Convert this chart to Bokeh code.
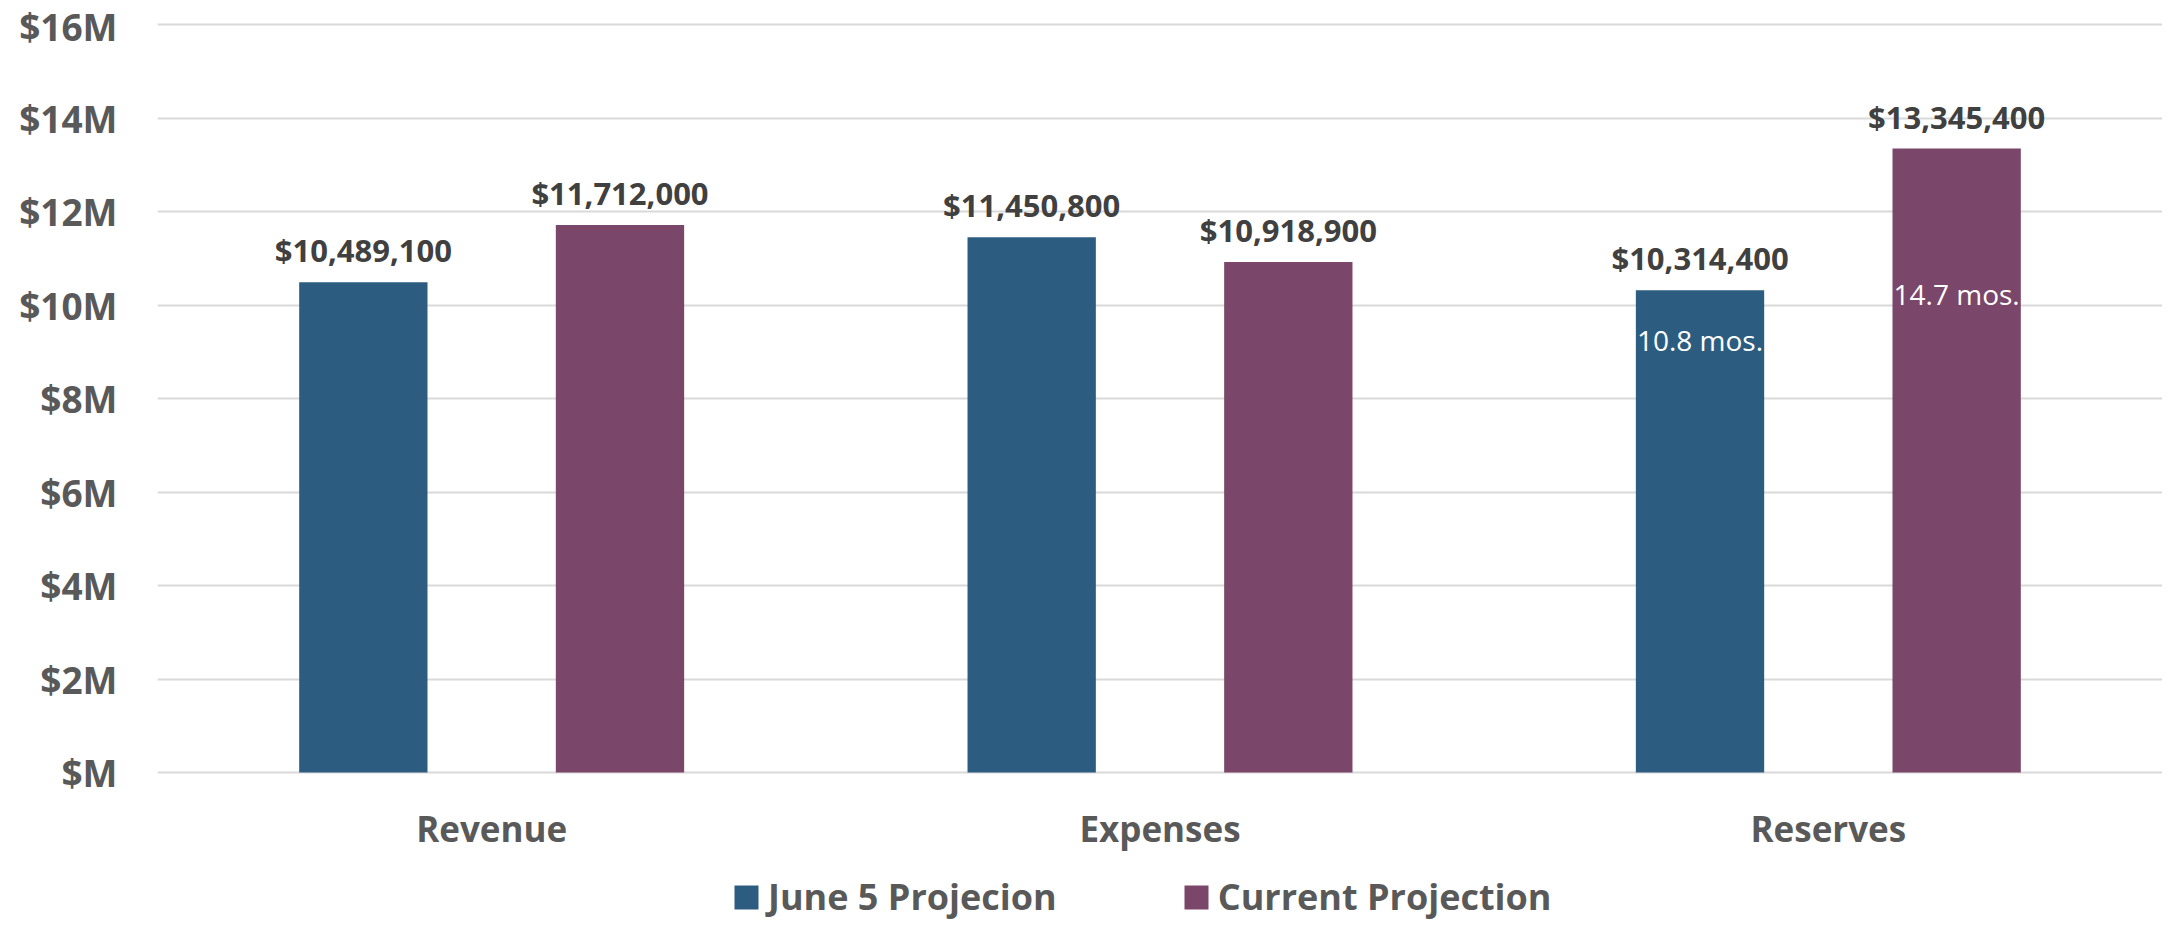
from bokeh.plotting import figure
from bokeh.models import (ColumnDataSource, FactorRange, Range1d, LabelSet, Legend,
                          LegendItem, CustomJSTickFormatter, FixedTicker)
from bokeh.transform import dodge
from bokeh.core.properties import value
from bokeh.embed import file_html
from bokeh.resources import INLINE

# ---- data ----
categories = ["Revenue", "Expenses", "Reserves"]
june5_projection = [10489100, 11450800, 10314400]
current_projection = [11712000, 10918900, 13345400]
series_names = ["June 5 Projecion", "Current Projection"]
reserve_months = ["10.8 mos.", "14.7 mos."]
reserve_months_y = [9250000, 10230000]
y_ticks = [0, 2000000, 4000000, 6000000, 8000000, 10000000, 12000000, 14000000, 16000000]

BLUE = "#2C5D80"
PURPLE = "#7A4669"
FONT = "Open Sans"
GRAY = "#595959"

src = ColumnDataSource(dict(
    cat=categories,
    zero=[0, 0, 0],
    june5=june5_projection,
    current=current_projection,
    june5_lbl=["${:,}".format(v) for v in june5_projection],
    current_lbl=["${:,}".format(v) for v in current_projection],
))

H = 926
TOP = 22          # frame top (16M line 2px below)
ZERO_Y = 772      # screen y of the $M line
PX_PER_UNIT = 748 / 16000000
p = figure(width=2162, height=H, output_backend="svg", toolbar_location=None,
           x_range=FactorRange(*categories, range_padding=0, factor_padding=0),
           y_range=Range1d(-(H - ZERO_Y) / PX_PER_UNIT, 16000000 + 2 / PX_PER_UNIT),
           x_axis_location=None,
           min_border_left=157, min_border_right=0, min_border_top=TOP, min_border_bottom=0)
p.outline_line_color = None
p.background_fill_color = "white"
p.border_fill_color = "white"

W = 0.192
r1 = p.vbar(x=dodge("cat", -W, range=p.x_range), top="june5", width=W, source=src,
            fill_color=BLUE, line_color=None)
r2 = p.vbar(x=dodge("cat", W, range=p.x_range), top="current", width=W, source=src,
            fill_color=PURPLE, line_color=None)

lab_style = dict(text_font=value(FONT), text_font_size="31px", text_font_style="bold",
                 text_color="#404040", text_align="center", text_baseline="alphabetic",
                 y_offset=20)
p.add_layout(LabelSet(x=dodge("cat", -W, range=p.x_range), y="june5", text="june5_lbl",
                      source=src, **lab_style))
p.add_layout(LabelSet(x=dodge("cat", W, range=p.x_range), y="current", text="current_lbl",
                      source=src, **lab_style))

msrc_a = ColumnDataSource(dict(cat=["Reserves"], y=[reserve_months_y[0]], t=[reserve_months[0]]))
msrc_b = ColumnDataSource(dict(cat=["Reserves"], y=[reserve_months_y[1]], t=[reserve_months[1]]))
mstyle = dict(text_font=value(FONT), text_font_size="28px", text_color="white",
              text_align="center", text_baseline="middle")
p.add_layout(LabelSet(x=dodge("cat", -W, range=p.x_range), y="y", text="t", source=msrc_a, **mstyle))
p.add_layout(LabelSet(x=dodge("cat", W, range=p.x_range), y="y", text="t", source=msrc_b, **mstyle))

# category labels (x axis)
p.add_layout(LabelSet(x="cat", y="zero", text="cat", source=src, y_offset=-56,
                      text_font=value(FONT), text_font_size="35px", text_font_style="bold",
                      text_color=GRAY, text_align="center", text_baseline="middle"))

# y axis
p.yaxis.ticker = FixedTicker(ticks=y_ticks)
p.yaxis.formatter = CustomJSTickFormatter(code='return tick == 0 ? "$M" : "$" + (tick/1e6).toFixed(0) + "M";')
p.yaxis.axis_line_color = None
p.yaxis.major_tick_line_color = None
p.yaxis.minor_tick_line_color = None
p.yaxis.major_tick_out = 0
p.yaxis.major_tick_in = 0
p.yaxis.major_label_standoff = 40
p.yaxis.major_label_text_font = FONT
p.yaxis.major_label_text_font_size = "37px"
p.yaxis.major_label_text_font_style = "bold"
p.yaxis.major_label_text_color = GRAY

p.xgrid.grid_line_color = None
p.ygrid.grid_line_color = "#D9D9D9"
p.ygrid.grid_line_width = 2

legend = Legend(items=[LegendItem(label=series_names[0], renderers=[r1]),
                       LegendItem(label=series_names[1], renderers=[r2])],
                orientation="horizontal", location=(574, 5))
legend.label_text_font = FONT
legend.label_text_font_size = "36px"
legend.label_text_font_style = "bold"
legend.label_text_color = GRAY
legend.glyph_width = 30
legend.glyph_height = 30
legend.label_standoff = 7
legend.spacing = 124
legend.padding = 0
legend.margin = 0
legend.border_line_color = None
legend.background_fill_alpha = 0
legend.label_height = 30
p.add_layout(legend)

open("out.html", "w").write(file_html(p, INLINE))
